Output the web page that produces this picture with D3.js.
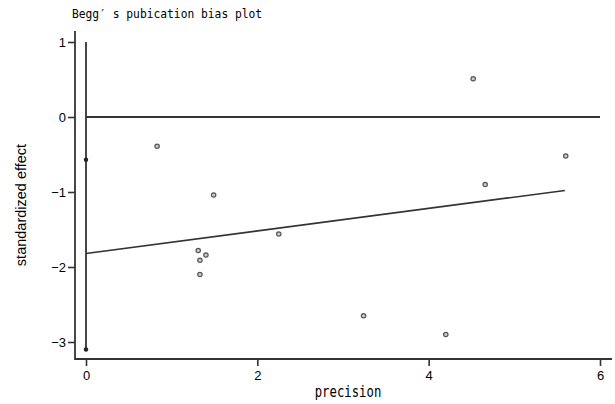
<!DOCTYPE html>
<html>
<head>
<meta charset="utf-8">
<style>
    body { margin: 0; background: #fff; }
    svg { display: block; }
    .tick text { font-family: 'Liberation Sans', Arial, sans-serif; font-size: 13px; fill: #000; }
</style>
</head>
<body>
<svg width="615" height="404"></svg>
<script src="https://d3js.org/d3.v7.min.js"></script>
<script>
    // study points: precision vs standardized effect
    let precision = [0.83, 1.49, 1.31, 1.40, 1.33, 1.33, 2.25, 4.52, 5.60, 4.66, 3.24, 4.20]
    let effect = [-0.39, -1.04, -1.78, -1.84, -1.91, -2.10, -1.56, 0.51, -0.52, -0.90, -2.65, -2.90]

    // regression line ends and intercept CI
    let fitX = [0, 5.59]
    let fitY = [-1.82, -0.98]
    let ciLow = -3.1, ciHigh = 1.0, ciMid = -0.57
    let zeroLineEnd = 6

    let xTicks = [0, 2, 4, 6]
    let yTicks = [1, 0, -1, -2, -3]

    let svg = d3.select("svg")

    let x = d3.scaleLinear().domain([0, 6]).range([86, 600])
    let y = d3.scaleLinear().domain([-3, 1]).range([342, 42])

    let ink = "#333"

    // axes
    let xAxis = svg.append("g")
        .attr("transform", "translate(0,359)")
        .call(d3.axisBottom(x).tickValues(xTicks).tickFormat(d3.format("d")).tickSize(7).tickSizeOuter(0))
    xAxis.select(".domain").remove()
    xAxis.selectAll(".tick line").attr("stroke", ink).attr("stroke-width", 1.6)
    xAxis.selectAll(".tick text").attr("y", 21).attr("dy", null)
    svg.append("line")
        .attr("x1", 75).attr("x2", 612).attr("y1", 359).attr("y2", 359)
        .attr("stroke", ink).attr("stroke-width", 1.8)

    let yAxis = svg.append("g")
        .attr("transform", "translate(75,0)")
        .call(d3.axisLeft(y).tickValues(yTicks).tickFormat(d => d < 0 ? "\u2212" + Math.abs(d) : d).tickSize(7).tickSizeOuter(0))
    yAxis.select(".domain").remove()
    yAxis.selectAll(".tick line").attr("stroke", ink).attr("stroke-width", 1.6)
    yAxis.selectAll(".tick text").attr("x", -9)
    svg.append("line")
        .attr("x1", 75).attr("x2", 75).attr("y1", 31).attr("y2", 360)
        .attr("stroke", ink).attr("stroke-width", 1.8)

    // zero line
    svg.append("line")
        .attr("x1", x(0)).attr("x2", x(zeroLineEnd)).attr("y1", y(0)).attr("y2", y(0))
        .attr("stroke", ink).attr("stroke-width", 1.8)

    // intercept CI at x = 0
    svg.append("line")
        .attr("x1", x(0)).attr("x2", x(0)).attr("y1", y(ciHigh)).attr("y2", y(ciLow))
        .attr("stroke", ink).attr("stroke-width", 1.8)
    svg.selectAll(".ci-dot")
        .data([ciMid, ciLow])
        .join("circle")
        .attr("cx", x(0)).attr("cy", d => y(d)).attr("r", 2.2)
        .attr("fill", "#222")

    // fitted line
    svg.append("line")
        .attr("x1", x(fitX[0])).attr("y1", y(fitY[0]))
        .attr("x2", x(fitX[1])).attr("y2", y(fitY[1]))
        .attr("stroke", ink).attr("stroke-width", 1.7)

    // study points
    svg.selectAll(".pt")
        .data(precision.map((p, i) => [p, effect[i]]))
        .join("circle")
        .attr("cx", d => x(d[0])).attr("cy", d => y(d[1])).attr("r", 2.2)
        .attr("fill", "#ccc").attr("stroke", "#555").attr("stroke-width", 1.2)

    // labels
    svg.append("text")
        .attr("transform", "translate(72,18) scale(1,1.15)")
        .style("font-family", "'DejaVu Sans Mono', 'Liberation Mono', monospace")
        .style("font-size", "11.3px")
        .text("Begg\u2032 s pubication bias plot")

    svg.append("text")
        .attr("transform", "translate(26,205) rotate(-90)")
        .attr("text-anchor", "middle")
        .style("font-family", "'Liberation Sans', Arial, sans-serif")
        .style("font-size", "14.5px")
        .text("standardized effect")

    svg.append("text")
        .attr("transform", "translate(348,397) scale(1,1.25)")
        .attr("text-anchor", "middle")
        .style("font-family", "'DejaVu Sans Mono', 'Liberation Mono', monospace")
        .style("font-size", "12.3px")
        .text("precision")
</script>
</body>
</html>
